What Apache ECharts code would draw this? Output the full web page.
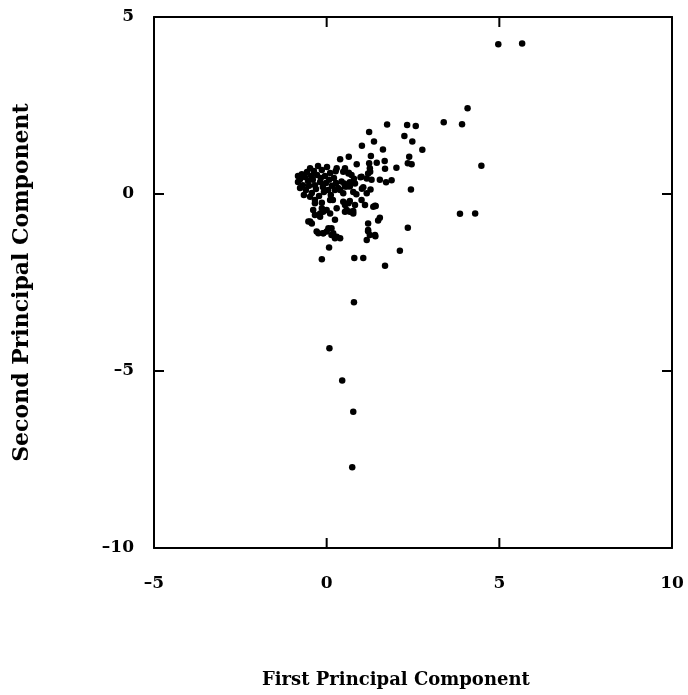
<!DOCTYPE html>
<html>
<head>
<meta charset="utf-8">
<title>Principal Components Scatter</title>
<script src="https://cdn.jsdelivr.net/npm/echarts@6/dist/echarts.min.js"></script>
<style>
  html, body { margin: 0; padding: 0; background: #fff; }
  #chart { width: 688px; height: 695px; }
</style>
</head>
<body>
<div id="chart"></div>
<script>
// Scores on the first two principal components
const pc1 = [
  4.08, 1.75, 2.33, 2.58, 3.39, 3.92, 1.23, 2.25, 1.37, 2.48,
  1.02, 1.63, 2.77, 0.64, 1.28, 2.39, 0.39, 0.87, 1.68, 2.35,
  2.46, 1.23, 1.45, 2.02, 1.69, 0.26, 0.64, 1.26, 0.79, 0.98,
  1.54, 1.72, 1.88, 1.30, 0.51, 0.67, 1.02, 1.27, 2.44, 0.86,
  4.48, 1.42, 0.67, 0.58, 0.77, 1.54, 1.49, 1.20, 2.35, 1.20,
  1.41, 1.16, 2.12, 0.07, -0.14, 0.80, 1.06, 1.69, 3.86, 4.30,
  -0.48, -0.29, -0.10, 0.05, 0.14, 0.24, -0.19, 0.00, 0.79, 0.08,
  0.45, 0.77, 0.74, 4.97, 5.66,
  -0.83, -0.83, -0.77, -0.72, -0.69, -0.63, -0.60, -0.57, -0.54, -0.51,
  -0.48, -0.45, -0.43, -0.40, -0.37, -0.34, -0.31, -0.28, -0.25, -0.22,
  -0.19, -0.17, -0.14, -0.11, -0.08, -0.05, -0.02, 0.01, 0.04, 0.07,
  0.10, 0.12, 0.15, 0.21, 0.24, 0.27, 0.33, 0.18, -0.34, -0.14,
  -0.48, -0.66, -0.77,
  0.29, 0.48, 0.72, 0.53, 0.67, 1.16, 0.10, -0.14, -0.10, 0.53,
  0.67, 0.77, 0.29, 1.01, 1.11, -0.34, -0.39, -0.19, -0.34, 0.10,
  0.48, 0.63, 0.53, 1.35, -0.53, -0.43, 0.24, -0.24, -0.10, 0.00,
  0.14, 0.19, 0.29, 0.39, 1.20, 1.25, 1.40, 0.53, 0.63, 1.25,
  1.20, 1.16, 1.01, 0.82, 0.77, 1.06, 0.43, 0.58, 0.39, 0.48,
  0.82, 1.40
];
const pc2 = [
  2.42, 1.96, 1.95, 1.92, 2.03, 1.97, 1.75, 1.64, 1.48, 1.48,
  1.36, 1.26, 1.25, 1.05, 1.07, 1.05, 0.98, 0.84, 0.93, 0.87,
  0.84, 0.87, 0.88, 0.74, 0.71, 0.64, 0.60, 0.63, 0.43, 0.47,
  0.40, 0.33, 0.39, 0.40, 0.30, 0.33, 0.15, 0.13, 0.13, -0.01,
  0.80, -0.34, -0.20, -0.45, -0.48, -0.67, -0.75, -0.83, -0.95, -1.05,
  -1.19, -1.30, -1.60, -1.51, -1.84, -1.81, -1.81, -2.03, -0.56, -0.55,
  -0.78, -1.06, -1.11, -0.97, -1.16, -1.25, -0.64, -0.45, -3.06, -4.36,
  -5.27, -6.15, -7.72, 4.23, 4.25,
  0.51, 0.34, 0.42, 0.56, 0.25, 0.48, 0.11, 0.62, 0.37, 0.23,
  0.73, 0.51, 0.03, 0.40, 0.65, 0.25, 0.14, 0.54, 0.79, -0.06,
  0.34, 0.45, 0.68, 0.20, 0.06, 0.51, 0.31, 0.76, 0.11, 0.40,
  0.59, -0.03, 0.23, 0.45, 0.11, 0.31, 0.17, -0.17, -0.17, -0.25,
  -0.08, -0.03, 0.17,
  0.73, 0.63, 0.54, 0.21, 0.21, 0.02, -0.17, -0.40, -0.50, -0.31,
  -0.50, -0.55, -0.40, -0.17, -0.31, -0.26, -0.45, -0.55, -0.59, -0.55,
  -0.22, -0.26, -0.50, -0.36, -0.78, -0.83, -0.73, -1.11, -1.11, -1.06,
  -0.97, -1.11, -1.21, -1.25, -1.02, -1.16, -1.16, 0.73, 0.58, 0.73,
  0.58, 0.44, 0.49, 0.30, 0.06, 0.19, 0.35, 0.21, 0.11, 0.02,
  -0.31, -0.33
];
const xTicks = [-5, 0, 5, 10];
const yTicks = [-10, -5, 0, 5];

const points = pc1.map((v, i) => [v, pc2[i]]);

const FONT = '"DejaVu Serif", "Liberation Serif", serif';
const fmt = v => String(v).replace('-', '\u2013');
const X_MIN = xTicks[0], X_MAX = xTicks[xTicks.length - 1];
const Y_MIN = yTicks[0], Y_MAX = yTicks[yTicks.length - 1];
const TICK_LEN = 10;

// One side of the frame around the plot
function frameAxis(position, showLabels, ticks) {
  return {
    type: 'value',
    min: ticks[0],
    max: ticks[ticks.length - 1],
    interval: 5,
    position: position,
    axisLine: { show: true, onZero: false, lineStyle: { color: '#000', width: 2 } },
    axisTick: { show: false },
    splitLine: { show: false },
    axisLabel: showLabels
      ? { show: true, margin: position === 'left' ? 20 : 27, fontSize: 17,
          fontFamily: FONT, fontWeight: 'bold', color: '#000', formatter: fmt }
      : { show: false }
  };
}

const yMain = frameAxis('left', true, yTicks);
yMain.name = 'Second Principal Component';
yMain.nameLocation = 'middle';
yMain.nameRotate = 90;
yMain.nameGap = 121;
yMain.nameTextStyle = { fontSize: 22, fontFamily: FONT, fontWeight: 'bold', color: '#000' };

const chart = echarts.init(document.getElementById('chart'), null, { renderer: 'canvas' });
chart.setOption({
  backgroundColor: '#fff',
  animation: false,
  grid: { left: 154, right: 16, top: 17, bottom: 147 },
  xAxis: [frameAxis('bottom', true, xTicks), frameAxis('top', false, xTicks)],
  yAxis: [yMain, frameAxis('right', false, yTicks)],
  graphic: [
    {
      id: 'xTitle',
      type: 'text',
      left: 262,
      top: 671,
      style: {
        text: 'First Principal Component',
        fontSize: 18,
        fontFamily: FONT,
        fontWeight: 'bold',
        fill: '#000'
      }
    }
  ],
  series: [
    {
      type: 'scatter',
      xAxisIndex: 0,
      yAxisIndex: 0,
      data: points,
      symbol: 'circle',
      symbolSize: 6.5,
      itemStyle: { color: '#000', opacity: 1 },
      silent: true
    }
  ]
});

// Inward tick marks on all four sides at the interior tick values,
// positioned through the grid's own coordinate conversion.
const toPx = (x, y) => chart.convertToPixel({ gridIndex: 0 }, [x, y]);
const tickLines = [];
xTicks.slice(1, -1).forEach(v => {
  const b = toPx(v, Y_MIN), t = toPx(v, Y_MAX);
  tickLines.push({ x1: b[0], y1: b[1], x2: b[0], y2: b[1] - TICK_LEN });
  tickLines.push({ x1: t[0], y1: t[1], x2: t[0], y2: t[1] + TICK_LEN });
});
yTicks.slice(1, -1).forEach(v => {
  const l = toPx(X_MIN, v), r = toPx(X_MAX, v);
  tickLines.push({ x1: l[0], y1: l[1], x2: l[0] + TICK_LEN, y2: l[1] });
  tickLines.push({ x1: r[0], y1: r[1], x2: r[0] - TICK_LEN, y2: r[1] });
});
chart.setOption({
  graphic: tickLines.map((shape, i) => ({
    id: 'tick' + i,
    type: 'line',
    shape: shape,
    style: { stroke: '#000', lineWidth: 2 },
    z: 10,
    silent: true
  }))
});
</script>
</body>
</html>
